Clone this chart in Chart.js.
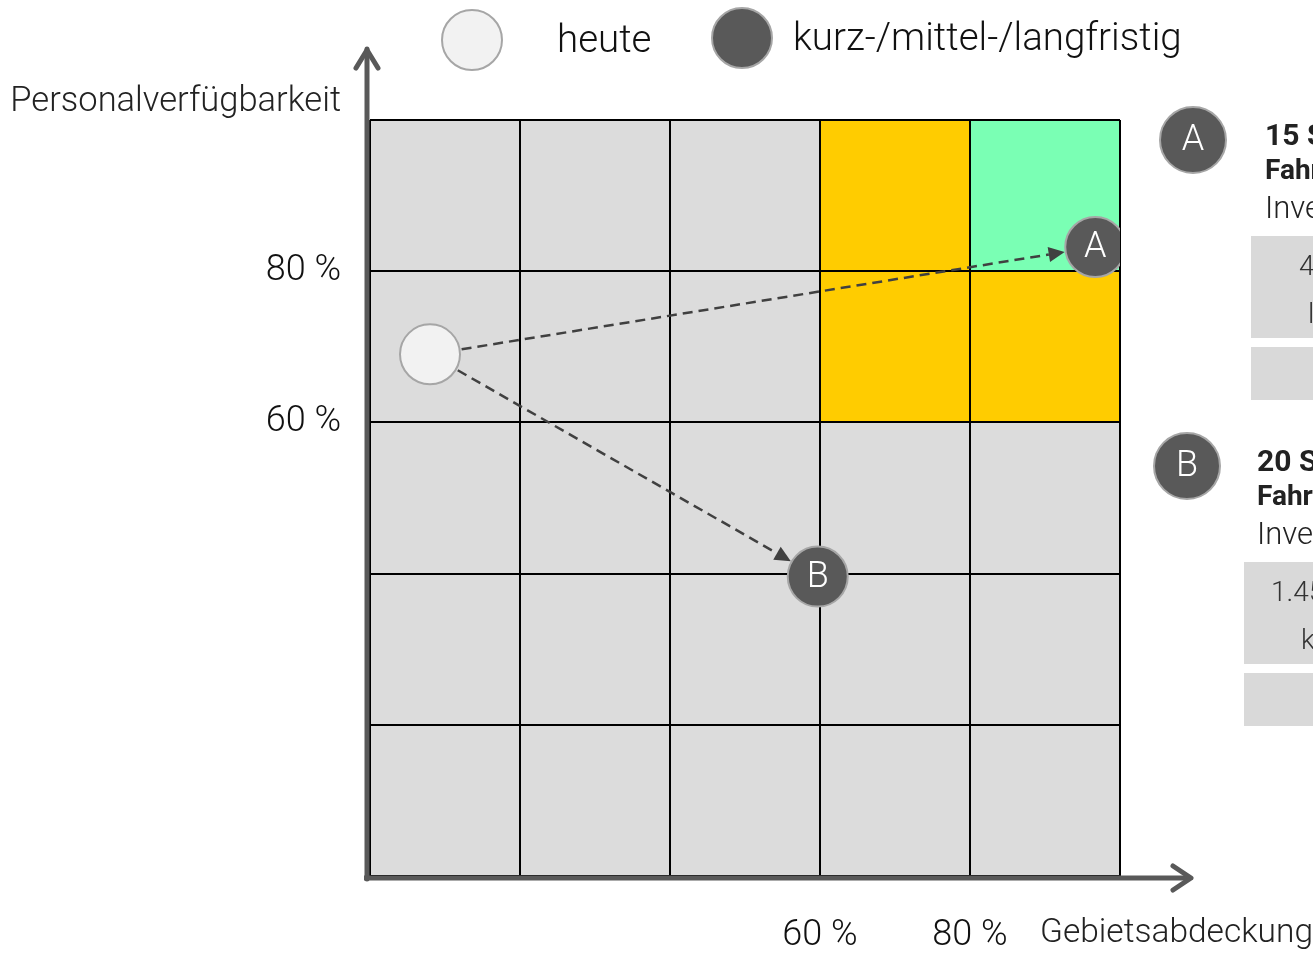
<!DOCTYPE html>
<html>
<head>
<meta charset="utf-8">
<script src="https://cdn.jsdelivr.net/npm/chart.js@4/dist/chart.umd.min.js"></script>
<style>
  html, body { margin: 0; padding: 0; background: #fff; }
  #c { display: block; }
</style>
</head>
<body>
<canvas id="c" width="1313" height="954"></canvas>
<script>
// ---- Daten ----
const gridSteps = [0, 20, 40, 60, 80];            // Zellgrenzen (untere/linke Kante)
const xTickLabels = [60, 80];                      // beschriftete Ticks x
const yTickLabels = [60, 80];                      // beschriftete Ticks y
const yellowCells = [[60, 80], [60, 60], [80, 60]]; // [x, y] untere linke Ecke
const greenCells = [[80, 80]];
const heute = [{ x: 8, y: 69 }];
const ziele = [{ x: 96.7, y: 83.2 }, { x: 59.7, y: 39.6 }];
const zielLabels = ['A', 'B'];
const legendLabels = ['heute', 'kurz-/mittel-/langfristig'];
const xTitle = 'Gebietsabdeckung';
const yTitle = 'Personalverfügbarkeit';
const panelTitles = ['15 Stationen', '20 Stationen'];
const panelSub = ['Fahrzeuge', 'Fahrzeuge'];
const panelInv = ['Investitionen', 'Investitionen'];
const panelBox1 = [['4,8 Mio. €', 'langfristig'], ['1.450 T€', 'kurzfristig']];

const FONT = 'Roboto, "DejaVu Sans", sans-serif';
const C_GREY = '#dcdcdc', C_YELLOW = '#ffcc00', C_GREEN = '#7affb4';
const C_AXIS = '#595959', C_DARK = '#595959', C_RING = '#a6a6a6', C_LIGHT = '#f2f2f2';

function circle(ctx, x, y, r, fill, stroke) {
  ctx.beginPath(); ctx.arc(x, y, r, 0, Math.PI * 2);
  ctx.fillStyle = fill; ctx.fill();
  ctx.lineWidth = 2; ctx.strokeStyle = stroke; ctx.stroke();
}

const matrixPlugin = {
  id: 'matrix',
  beforeDraw(chart) {
    const { ctx, chartArea: a, scales: { x, y } } = chart;
    ctx.save();
    ctx.fillStyle = C_GREY;
    ctx.fillRect(a.left, a.top, a.right - a.left, a.bottom - a.top);
    const cell = (list, col) => list.forEach(([cx, cy]) => {
      const l = x.getPixelForValue(cx), r = x.getPixelForValue(cx + 20);
      const t = y.getPixelForValue(cy + 20), b = y.getPixelForValue(cy);
      ctx.fillStyle = col; ctx.fillRect(l, t, r - l, b - t);
    });
    cell(yellowCells, C_YELLOW);
    cell(greenCells, C_GREEN);
    ctx.restore();
  },
  beforeDatasetsDraw(chart) {
    // gestrichelte Pfeile von "heute" zu A / B
    const { ctx } = chart;
    const from = chart.getDatasetMeta(0).data[0];
    const r = 31;
    ctx.save();
    chart.getDatasetMeta(1).data.forEach(p => {
      const dx = p.x - from.x, dy = p.y - from.y, len = Math.hypot(dx, dy);
      const ux = dx / len, uy = dy / len;
      const tx = p.x - ux * r, ty = p.y - uy * r;
      const hl = 16, hw = 7.5;
      const bx = tx - ux * hl, by = ty - uy * hl;
      ctx.setLineDash([10, 6]);
      ctx.lineWidth = 2.5; ctx.strokeStyle = '#404040';
      ctx.beginPath(); ctx.moveTo(from.x, from.y); ctx.lineTo(bx, by); ctx.stroke();
      ctx.setLineDash([]);
      ctx.fillStyle = '#404040';
      ctx.beginPath();
      ctx.moveTo(tx, ty);
      ctx.lineTo(bx - uy * hw, by + ux * hw);
      ctx.lineTo(bx + uy * hw, by - ux * hw);
      ctx.closePath(); ctx.fill();
    });
    ctx.restore();
  },
  afterDatasetsDraw(chart) {
    const { ctx } = chart;
    ctx.save();
    ctx.fillStyle = '#fff';
    ctx.font = '300 36px ' + FONT;
    ctx.textAlign = 'center'; ctx.textBaseline = 'middle';
    chart.getDatasetMeta(1).data.forEach((p, i) => ctx.fillText(zielLabels[i], p.x, p.y + 1));
    ctx.restore();
  },
  afterDraw(chart) {
    const { ctx, chartArea: a } = chart;
    ctx.save();
    // Achsen mit Pfeilspitzen
    ctx.strokeStyle = C_AXIS; ctx.lineWidth = 5; ctx.lineCap = 'round'; ctx.lineJoin = 'round';
    const ax = a.left - 3, ay = a.bottom + 2;
    ctx.beginPath(); ctx.moveTo(ax, ay + 1); ctx.lineTo(ax, 49); ctx.stroke();
    ctx.beginPath(); ctx.moveTo(ax - 11, 68); ctx.lineTo(ax, 50); ctx.lineTo(ax + 11, 68); ctx.stroke();
    ctx.lineCap = 'butt';
    ctx.beginPath(); ctx.moveTo(ax - 3, ay); ctx.lineTo(1190, ay); ctx.stroke();
    ctx.lineCap = 'round';
    ctx.beginPath(); ctx.moveTo(1173, ay - 12); ctx.lineTo(1191, ay); ctx.lineTo(1173, ay + 12); ctx.stroke();

    // Achsentitel
    ctx.fillStyle = '#222';
    ctx.textBaseline = 'middle';
    ctx.font = '300 34.5px ' + FONT;
    ctx.textAlign = 'right';
    ctx.fillText(yTitle, 341, 102);
    ctx.textAlign = 'left';
    ctx.font = '300 33.5px ' + FONT;
    ctx.fillText(xTitle, 1040, 934);

    // Legende
    circle(ctx, 472, 40, 30, C_LIGHT, C_RING);
    circle(ctx, 742, 38, 30, C_DARK, C_RING);
    ctx.fillStyle = '#111';
    ctx.font = '300 38.5px ' + FONT;
    ctx.fillText(legendLabels[0], 557, 42);
    ctx.fillText(legendLabels[1], 793, 40);

    // Seitenpanel (rechts, angeschnitten)
    const panels = [
      { cx: 1193, cy: 140, tx: 1265, ty: 137, box: 1251, by: 236 },
      { cx: 1187, cy: 466, tx: 1257, ty: 463, box: 1244, by: 562 }
    ];
    panels.forEach((p, i) => {
      circle(ctx, p.cx, p.cy, 33, C_DARK, C_RING);
      ctx.fillStyle = '#fff'; ctx.font = '300 36px ' + FONT; ctx.textAlign = 'center';
      ctx.fillText(zielLabels[i], p.cx, p.cy + 1);
      ctx.textAlign = 'left'; ctx.fillStyle = '#222';
      ctx.font = 'bold 30px ' + FONT; ctx.fillText(panelTitles[i], p.tx, p.ty);
      ctx.font = 'bold 28px ' + FONT; ctx.fillText(panelSub[i], p.tx, p.ty + 35);
      ctx.font = '300 31px ' + FONT; ctx.fillText(panelInv[i], p.tx, p.ty + 73);
      ctx.fillStyle = '#d9d9d9';
      ctx.fillRect(p.box, p.by, 200, 102);
      ctx.fillRect(p.box, p.by + 111, 200, 53);
      ctx.fillStyle = '#333'; ctx.font = '300 28px ' + FONT;
      ctx.fillText(panelBox1[i][0], i === 0 ? 1299 : 1271, p.by + 32);
      ctx.fillText(panelBox1[i][1], i === 0 ? 1308 : 1301, p.by + 80);
    });
    ctx.restore();
  }
};

new Chart(document.getElementById('c'), {
  type: 'scatter',
  data: {
    datasets: [
      { label: legendLabels[0], data: heute, pointRadius: 30, pointHoverRadius: 30,
        backgroundColor: C_LIGHT, borderColor: C_RING, borderWidth: 2 },
      { label: legendLabels[1], data: ziele, pointRadius: 30, pointHoverRadius: 30,
        backgroundColor: C_DARK, borderColor: C_RING, borderWidth: 2 }
    ]
  },
  options: {
    responsive: false, animation: false,
    layout: { padding: { left: 0, top: 120, right: 193, bottom: 0 } },
    plugins: { legend: { display: false }, tooltip: { enabled: false } },
    scales: {
      x: {
        min: 0, max: 100,
        afterFit: s => { s.height = 78; },
        afterBuildTicks: s => { s.ticks = [...gridSteps, 100].map(v => ({ value: v })); },
        grid: { color: '#000', lineWidth: 2, drawTicks: false },
        border: { display: false },
        ticks: {
          padding: 38, color: '#111', maxRotation: 0, autoSkip: false,
          font: { family: FONT, size: 36, weight: '300' },
          callback: v => xTickLabels.includes(v) ? v + ' %' : ''
        }
      },
      y: {
        min: 0, max: 100,
        afterFit: s => { s.width = 370; },
        afterBuildTicks: s => { s.ticks = [...gridSteps, 100].map(v => ({ value: v })); },
        grid: { color: '#000', lineWidth: 2, drawTicks: false },
        border: { display: false },
        ticks: {
          padding: 29, color: '#111', autoSkip: false,
          font: { family: FONT, size: 36, weight: '300' },
          callback: v => yTickLabels.includes(v) ? v + ' %' : ''
        }
      }
    }
  },
  plugins: [matrixPlugin]
});
</script>
</body>
</html>
